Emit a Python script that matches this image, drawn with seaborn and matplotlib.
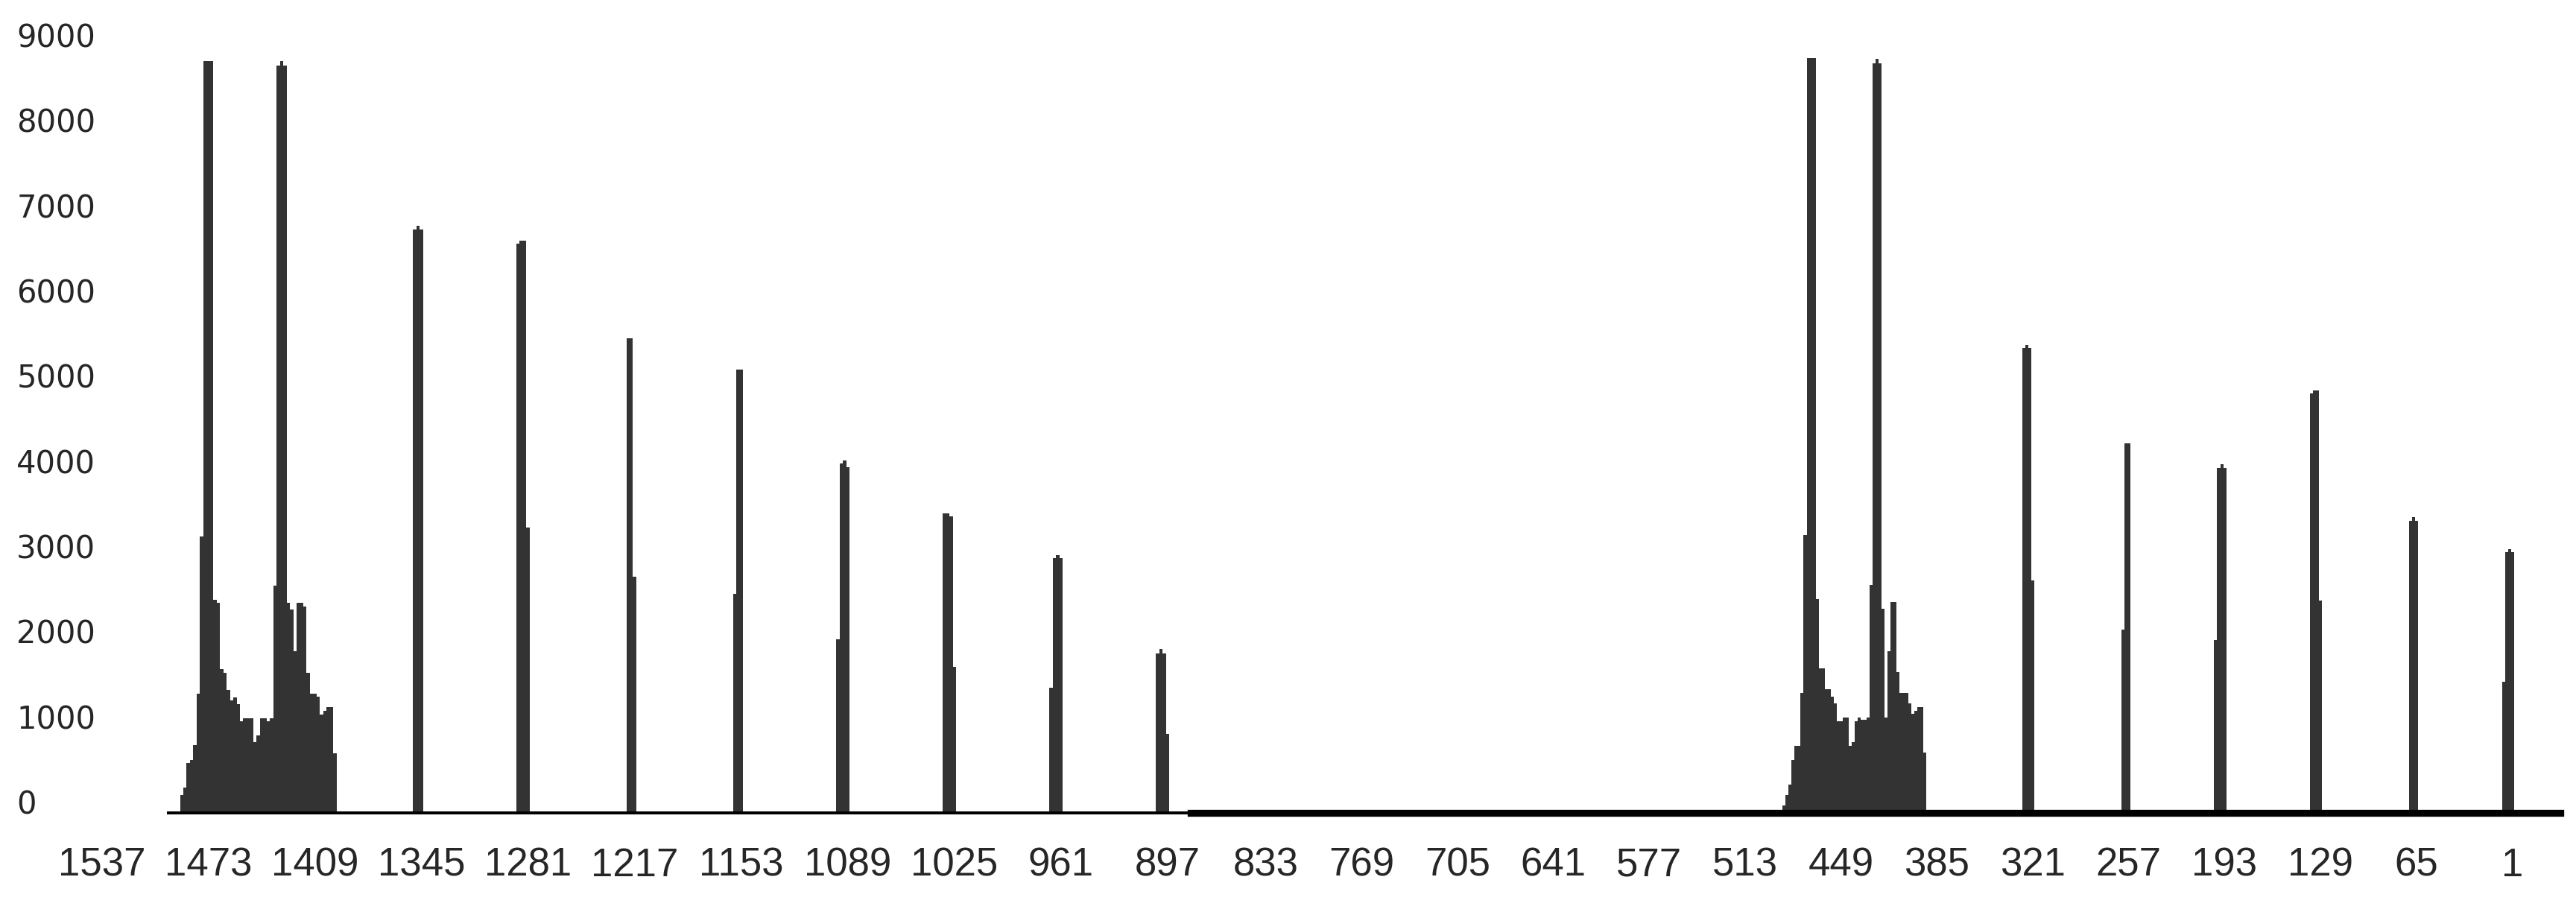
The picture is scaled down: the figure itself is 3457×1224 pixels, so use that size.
import numpy as np
import pandas as pd
import matplotlib
matplotlib.use("Agg")
import matplotlib.pyplot as plt
import matplotlib.transforms as mtransforms
import seaborn as sns

sns.set_style("white")
plt.rcParams["font.family"] = ["DejaVu Sans"]

# bins are odd numbers, 2 wide; the axis runs from 1537 down to 1
tick_values = list(range(1537, 0, -64))
split_at = 884  # left panel holds the bins above this, right panel the rest

# the two dense clusters, heights from left to right (high bin -> low bin)
left_cluster_first_bin = 1489
left_cluster = [213, 300, 582, 622, 793, 1402, 3248, 8828, 8828, 8828,
                2504, 2468, 1690, 1648, 1443, 1320, 1355, 1273, 1074, 1115,
                1115, 1115, 828, 910, 1115, 1115, 1074, 1115, 2668, 8773,
                8828, 8773, 2468, 2387, 1894, 2468, 2468, 2427, 1648, 1402,
                1402, 1361, 1155, 1197, 1238, 1238, 704]

right_cluster_first_bin = 487
right_cluster = [87, 206, 335, 624, 788, 788, 1407, 3262, 8860, 8860,
                 8860, 2514, 1696, 1696, 1448, 1448, 1365, 1283, 1077, 1077,
                 1118, 1118, 788, 829, 1077, 1118, 1090, 1090, 1118, 2678,
                 8802, 8849, 8802, 2395, 1118, 1901, 2479, 2479, 1654, 1407,
                 1407, 1407, 1283, 1160, 1200, 1241, 1241, 706]

# narrow spikes: last bin of each spike, heights from left to right
spike_last_bins = [1345, 1281, 1217, 1153, 1089, 1025, 961, 897,
                   321, 257, 193, 129, 65, 1]
spike_heights = [
    [6850, 6890, 6850],
    [6680, 6720, 6720, 3350],
    [5570, 5570, 2770],
    [2570, 5200, 5200],
    [2040, 4100, 4140, 4060],
    [3520, 3520, 3480, 1710],
    [1470, 2990, 3030, 2990],
    [1870, 1920, 1870, 930],
    [5460, 5490, 5460, 2730],
    [2150, 4340, 4340],
    [2030, 4050, 4090, 4050],
    [4920, 4960, 4960, 2490],
    [3430, 3470, 3430],
    [1540, 3060, 3100, 3060],
]

rows = []
for first, heights in [(left_cluster_first_bin, left_cluster),
                       (right_cluster_first_bin, right_cluster)]:
    for i, h in enumerate(heights):
        rows.append((first - 2 * i, h))
for last, heights in zip(spike_last_bins, spike_heights):
    n = len(heights)
    for i, h in enumerate(heights):
        rows.append((last + 2 * (n - 1 - i), h))
df = pd.DataFrame(rows, columns=["bin", "count"])

fig = plt.figure(figsize=(34.57, 12.24), dpi=100)
ax_left = fig.add_axes([132 / 3457, 133 / 1224, 1464 / 3457, 1029 / 1224])
ax_right = fig.add_axes([1596 / 3457, 133 / 1224, 1840 / 3457, 1029 / 1224])

bar_color = "#333333"
sns.histplot(data=df[df["bin"] > split_at], x="bin", weights="count",
             binwidth=2, binrange=(split_at, 1540), ax=ax_left,
             color=bar_color, alpha=1, linewidth=0)
sns.histplot(data=df[df["bin"] < split_at], x="bin", weights="count",
             binwidth=2, binrange=(0, split_at), ax=ax_right,
             color=bar_color, alpha=1, linewidth=0)

ax_left.set_xlim(1539, split_at)
ax_right.set_xlim(split_at, -31)

for ax in (ax_left, ax_right):
    ax.set_ylim(0, 9000)
    ax.set_xlabel("")
    ax.set_ylabel("")
    for side in ("top", "right", "left"):
        ax.spines[side].set_visible(False)
    ax.spines["bottom"].set_color("black")
    ax.tick_params(axis="x", length=0, pad=33, labelsize=38)

ax_left.spines["bottom"].set_linewidth(2.9)
ax_left.spines["bottom"].set_bounds(885.5, 1497)
ax_right.spines["bottom"].set_linewidth(6.7)
ax_right.spines["bottom"].set_bounds(-31, 883)

ax_left.set_xticks([t for t in tick_values if t > split_at])
ax_right.set_xticks([t for t in tick_values if t < split_at])
ax_left.set_xticklabels([str(t) for t in tick_values if t > split_at])
ax_right.set_xticklabels([str(t) for t in tick_values if t < split_at])

ax_left.set_yticks(range(0, 9001, 1000))
ax_left.tick_params(axis="y", length=0, pad=79, labelsize=30)
ax_right.set_yticks([])

for ax in (ax_left, ax_right):
    for lab in ax.get_xticklabels():
        lab.set_fontfamily(["Liberation Sans", "DejaVu Sans"])

# y labels sit left-aligned and slightly above their value
lift = mtransforms.ScaledTranslation(0, 15 / 100, fig.dpi_scale_trans)
for lab in ax_left.get_yticklabels():
    lab.set_horizontalalignment("left")
    lab.set_transform(lab.get_transform() + lift)

fig.savefig("out.png", dpi=100)
